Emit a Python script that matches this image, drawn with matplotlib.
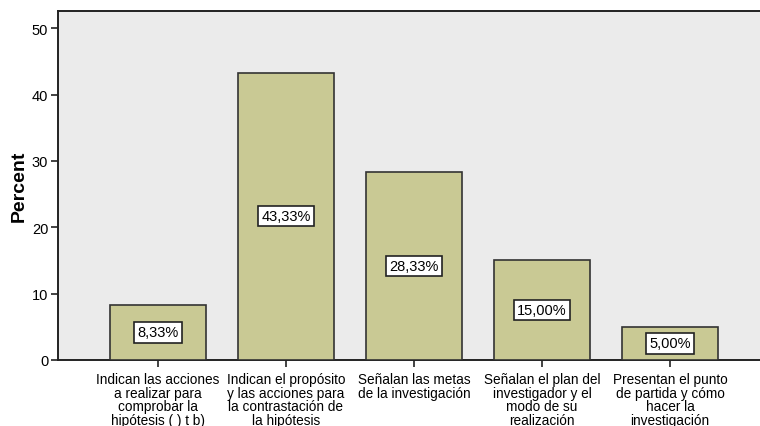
import matplotlib
matplotlib.use("Agg")
import matplotlib.pyplot as plt

categories = [
    "Indican las acciones\na realizar para\ncomprobar la\nhipótesis ( ) t b)",
    "Indican el propósito\ny las acciones para\nla contrastación de\nla hipótesis",
    "Señalan las metas\nde la investigación",
    "Señalan el plan del\ninvestigador y el\nmodo de su\nrealización",
    "Presentan el punto\nde partida y cómo\nhacer la\ninvestigación",
]
values = [8.33, 43.33, 28.33, 15.00, 5.00]
labels = ["8,33%", "43,33%", "28,33%", "15,00%", "5,00%"]
yticks = [0, 10, 20, 30, 40, 50]

plt.rcParams['font.family'] = ['Liberation Sans', 'DejaVu Sans']

fig = plt.figure(figsize=(7.6, 4.27), dpi=100)
ax = fig.add_axes([58/760, 66/427, 712/760, 349/427])
ax.set_facecolor('#EBEBEB')
x = list(range(len(values)))
ax.bar(x, values, width=0.75, color='#C9C994', edgecolor='#333333', linewidth=1.2, zorder=3)
for xi, v, lab in zip(x, values, labels):
    ax.text(xi, v / 2, lab, ha='center', va='center', fontsize=10.5, zorder=4,
            bbox=dict(boxstyle='square,pad=0.22', facecolor='white', edgecolor='#222222', linewidth=1.2))
ax.set_xlim(-0.78, 4.78)
ax.set_ylim(0, 52.6)
ax.set_yticks(yticks)
ax.set_yticklabels([str(t) for t in yticks], fontsize=10.5)
ax.set_xticks(x)
ax.set_xticklabels(categories, fontsize=9.8, linespacing=0.95, va='top')
ax.tick_params(axis='both', direction='out', length=5, width=1.2, color='#222222')
ax.tick_params(axis='x', pad=4)
ax.tick_params(axis='y', pad=2)
ax.set_ylabel('Percent', fontsize=14, fontweight='bold', labelpad=3)
for s in ['left', 'top', 'bottom']:
    ax.spines[s].set_linewidth(1.4)
    ax.spines[s].set_color('#222222')
ax.spines['right'].set_visible(False)
fig.savefig('out.png', dpi=100)
